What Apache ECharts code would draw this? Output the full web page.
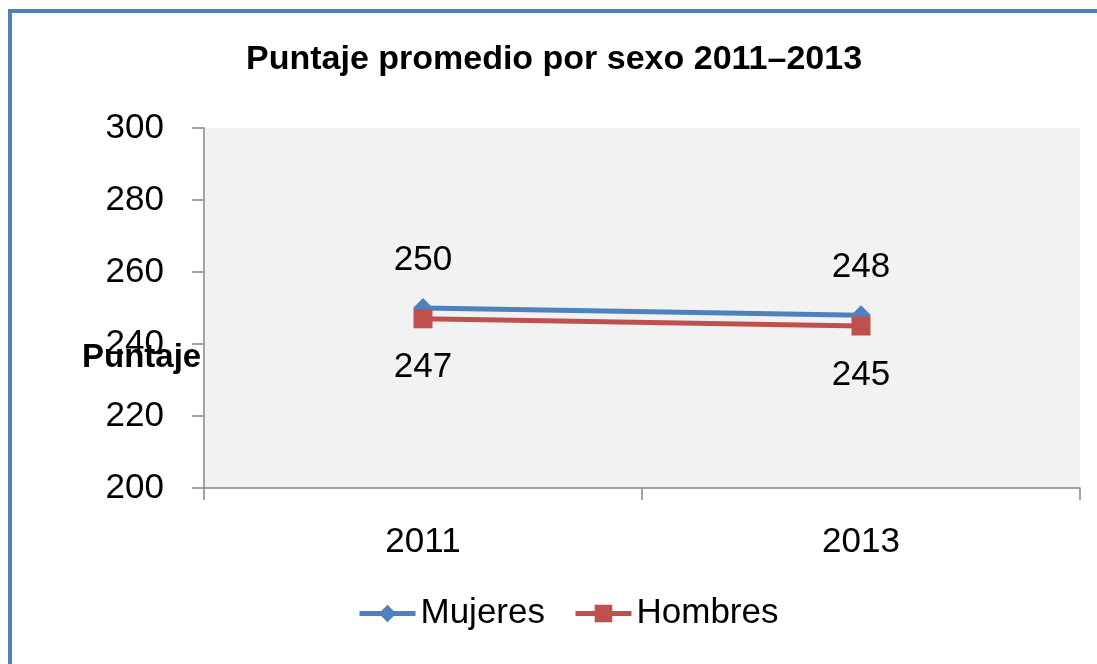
<!DOCTYPE html>
<html lang="es">
<head>
    <meta charset="UTF-8">
    <title>Puntaje promedio por sexo</title>
    <script src="https://cdn.jsdelivr.net/npm/echarts/dist/echarts.min.js"></script>
    <style>
        html, body { margin: 0; padding: 0; background: #fff; }
        #chart { width: 1097px; height: 664px; }
    </style>
</head>
<body>
<div id="chart"></div>
<script>
    // datos del gráfico
    var years = ['2011', '2013'];
    var mujeres = [250, 248];
    var hombres = [247, 245];
    var yTicks = { min: 200, max: 300, interval: 20 };

    var font = '"Liberation Sans", Arial, sans-serif';
    var chart = echarts.init(document.getElementById('chart'));

    var options = {
        backgroundColor: '#ffffff',
        animation: false,
        title: {
            text: 'Puntaje promedio por sexo 2011–2013',
            left: 241,
            top: 38,
            textStyle: { fontFamily: font, fontWeight: 'bold', fontSize: 34, color: '#000' }
        },
        // borde azul del marco
        graphic: [
            {
                type: 'rect',
                shape: { x: 10, y: 11, width: 1200, height: 800 },
                style: { fill: 'none', stroke: '#4F81BD', lineWidth: 4 },
                silent: true
            },
            {
                type: 'text',
                left: 82,
                top: 341,
                style: { text: 'Puntaje', fontFamily: font, fontWeight: 'bold', fontSize: 33, fill: '#000' },
                z: 10
            }
        ],
        legend: {
            bottom: 28,
            left: 352,
            itemWidth: 56,
            itemHeight: 22,
            itemGap: 28,
            lineStyle: { width: 5 },
            textStyle: { fontFamily: font, fontSize: 35, color: '#000' },
            data: ['Mujeres', 'Hombres']
        },
        grid: {
            left: 204, top: 128, right: 17, bottom: 176,
            show: true, backgroundColor: '#F2F2F2', borderWidth: 0
        },
        xAxis: {
            type: 'category',
            data: years,
            boundaryGap: true,
            axisLine: { lineStyle: { color: '#868686', width: 1.5 } },
            axisTick: { show: true, length: 12, lineStyle: { color: '#868686', width: 1.5 } },
            axisLabel: { fontFamily: font, fontSize: 35, color: '#000', margin: 37 }
        },
        yAxis: {
            type: 'value',
            min: yTicks.min, max: yTicks.max, interval: yTicks.interval,
            splitLine: { show: false },
            axisLine: { show: true, lineStyle: { color: '#868686', width: 1.5 } },
            axisTick: { show: true, length: 12, lineStyle: { color: '#868686', width: 1.5 } },
            axisLabel: { fontFamily: font, fontSize: 35, color: '#000', margin: 40 }
        },
        series: [
            {
                name: 'Mujeres',
                type: 'line',
                data: mujeres,
                symbol: 'diamond',
                symbolSize: 20,
                itemStyle: { color: '#4F81BD' },
                lineStyle: { color: '#4F81BD', width: 5 },
                label: { show: true, position: 'top', distance: 20, fontFamily: font, fontSize: 35, color: '#000' }
            },
            {
                name: 'Hombres',
                type: 'line',
                data: hombres,
                symbol: 'rect',
                symbolSize: 19,
                itemStyle: { color: '#C0504D' },
                lineStyle: { color: '#C0504D', width: 5 },
                label: { show: true, position: 'bottom', distance: 22, fontFamily: font, fontSize: 35, color: '#000' }
            }
        ]
    };

    chart.setOption(options);
</script>
</body>
</html>
